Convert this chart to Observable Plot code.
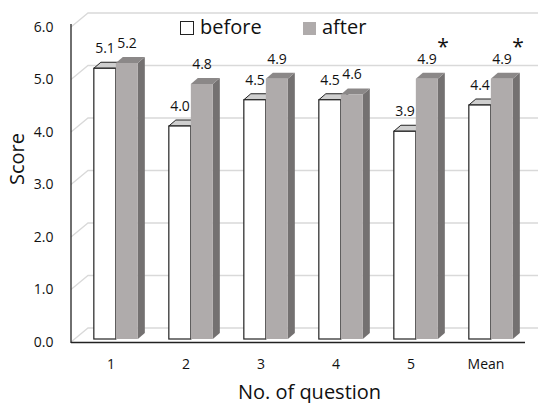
<!DOCTYPE html>
<html>
<head>
<meta charset="utf-8">
<script src="https://cdn.jsdelivr.net/npm/d3@7"></script>
<script src="https://cdn.jsdelivr.net/npm/@observablehq/plot@0.6"></script>
<style>
  body { margin: 0; background: #fff; }
  #wrap { position: relative; width: 538px; height: 403px; font-family: "Open Sans", sans-serif; }
  .legend { position: absolute; top: 14px; left: 0; font-size: 20px; color: #111; }
  .item { position: absolute; white-space: nowrap; line-height: 26px; }
  .sw { display: inline-block; width: 13px; height: 13px; vertical-align: -1px; margin-right: 6px; box-sizing: border-box; }
</style>
</head>
<body>
<div id="wrap"></div>
<script>
const categories = ["1", "2", "3", "4", "5", "Mean"];
const beforeValues = [5.1, 4.0, 4.5, 4.5, 3.9, 4.4];
const afterValues = [5.2, 4.8, 4.9, 4.6, 4.9, 4.9];
const starred = ["5", "Mean"];
const yTicks = [0, 1, 2, 3, 4, 5, 6];
const seriesNames = ["before", "after"];

const beforeRows = categories.map((c, i) => ({cat: c, value: beforeValues[i]}));
const afterRows = categories.map((c, i) => ({cat: c, value: afterValues[i]}));
const starRows = afterRows.filter(d => starred.includes(d.cat));

const W = 538, H = 403;
const mL = 71, mR = 13, mT = 27, mB = 61;
const DX = 7, DY = -6;       // bar depth
const WX = 17, WY = -14;     // wall depth
const BAR_W = 22;

function bars3d(offset, colors) {
  return function(index, scales, values, dims) {
    const bw = (dims.width - dims.marginLeft - dims.marginRight) / categories.length;
    const g = d3.create("svg:g");
    const y0 = scales.y(0) - 3;
    for (const i of index) {
      const c = values.x[i] + bw / 2;
      const x0 = c + offset, x1 = x0 + BAR_W;
      const yt = values.y2[i] - 6;
      g.append("path")
        .attr("d", `M${x1},${yt}L${x1 + DX},${yt + DY}L${x1 + DX},${y0 + DY}L${x1},${y0}Z`)
        .attr("fill", colors.side).attr("stroke", colors.stroke || "none").attr("stroke-width", 1);
      g.append("path")
        .attr("d", `M${x0},${yt}L${x1},${yt}L${x1 + DX},${yt + DY}L${x0 + DX},${yt + DY}Z`)
        .attr("fill", colors.top).attr("stroke", colors.stroke || "none").attr("stroke-width", 1);
      g.append("rect")
        .attr("x", x0).attr("y", yt).attr("width", BAR_W).attr("height", y0 - yt)
        .attr("fill", colors.front).attr("stroke", colors.stroke || "none").attr("stroke-width", 1.2);
    }
    return g.node();
  };
}

function wall(index, scales, values, dims) {
  const g = d3.create("svg:g");
  for (const i of index) {
    const y = values.y[i];
    g.append("path")
      .attr("d", `M${dims.marginLeft},${y}L${dims.marginLeft + WX},${y + WY}H${dims.width}`)
      .attr("fill", "none").attr("stroke", "#d9d9d9").attr("stroke-width", 1.3);
  }
  return g.node();
}

function yAxisLine(index, scales, values, dims) {
  const g = d3.create("svg:g");
  g.append("line").attr("x1", dims.marginLeft).attr("x2", dims.marginLeft)
    .attr("y1", dims.marginTop - 3).attr("y2", dims.height - dims.marginBottom + 1)
    .attr("stroke", "#222").attr("stroke-width", 1.3);
  return g.node();
}

const plot = Plot.plot({
  width: W, height: H,
  marginLeft: mL, marginRight: mR, marginTop: mT, marginBottom: mB,
  style: {fontFamily: "'Open Sans', sans-serif", color: "#111", background: "transparent"},
  x: {domain: categories, padding: 0},
  y: {domain: [0, 6]},
  marks: [
    Plot.ruleY(yTicks, {y: d => d, render: wall}),
    Plot.axisY({ticks: yTicks, tickFormat: d => d.toFixed(1), tickSize: 0, tickPadding: 18, fontSize: 14, label: null}),
    Plot.axisX({tickSize: 0, tickPadding: 17, fontSize: 14, label: null}),
    Plot.ruleY([0], {stroke: "#222", strokeWidth: 1.3}),
    Plot.ruleY([0], {render: yAxisLine}),
    Plot.barY(beforeRows, {x: "cat", y: "value", render: bars3d(-17, {front: "#ffffff", top: "#cfcfcf", side: "#cfcfcf", stroke: "#222"})}),
    Plot.barY(afterRows, {x: "cat", y: "value", render: bars3d(5, {front: "#afabab", top: "#8b8888", side: "#747171"})}),
    Plot.text(beforeRows, {x: "cat", y: "value", text: d => d.value.toFixed(1), dx: -6, dy: -26, fontSize: 14, fill: "#111"}),
    Plot.text(afterRows, {x: "cat", y: "value", text: d => d.value.toFixed(1), dx: 16, dy: -26, fontSize: 14, fill: "#111"}),
    Plot.text(starRows, {x: "cat", y: "value", text: () => "*", dx: 32, dy: -38, fontSize: 21, fill: "#111"}),
    Plot.text(["Score"], {frameAnchor: "left", rotate: -90, dx: -54, fontSize: 20, fill: "#111"}),
    Plot.text(["No. of question"], {frameAnchor: "bottom", lineAnchor: "bottom", dx: 11, dy: 56, fontSize: 20, fill: "#111"})
  ]
});

const wrap = document.getElementById("wrap");
wrap.appendChild(plot);

const legend = document.createElement("div");
legend.className = "legend";
const items = [
  {name: seriesNames[0], left: 180, sw: "background:#fff;border:1.3px solid #222;width:14px;height:14px;"},
  {name: seriesNames[1], left: 303, sw: "background:#afabab;"}
];
for (const it of items) {
  const el = document.createElement("div");
  el.className = "item";
  el.style.left = it.left + "px";
  el.innerHTML = `<span class="sw" style="${it.sw}"></span>${it.name}`;
  legend.appendChild(el);
}
wrap.appendChild(legend);
</script>
</body>
</html>
